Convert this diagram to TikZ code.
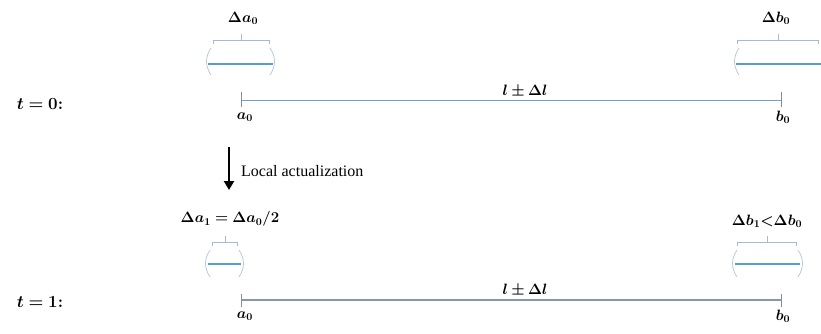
\RequirePackage{fix-cm}
\documentclass[tikz,border=0pt]{standalone}
\usepackage{amsmath}
\usepackage{bm}
\usepackage{fontspec}
\newfontfamily\timesfont{Liberation Serif}
\usetikzlibrary{arrows.meta}
\definecolor{segblue}{HTML}{5B9BD5}
\definecolor{bracecol}{HTML}{A7BAD3}
\definecolor{parcol}{HTML}{B9CADD}
\definecolor{mainthin}{HTML}{7A9CC8}
\definecolor{mainthick}{HTML}{8497B0}
\definecolor{tickcol}{HTML}{8C8C8C}
\tikzset{
  lbl/.style={inner sep=0pt, font=\fontsize{15}{17}\selectfont},
  tlbl/.style={inner sep=0pt, font=\fontsize{17}{20}\selectfont},
  seg/.style={segblue, line width=2pt},
  bracel/.style={bracecol, line width=0.8pt},
  parl/.style={parcol, line width=0.8pt},
  thinmain/.style={mainthin, line width=1pt},
  thickmain/.style={mainthick, line width=2.4pt},
  endtick/.style={tickcol, line width=0.8pt},
}
\begin{document}
\begin{tikzpicture}[x=1pt,y=-1pt]
\useasboundingbox (0,0) rectangle (821,333);
% ---------- t = 0 ----------
\node[tlbl] (t0) at (40,104) {$\bm{t=0}$\textbf{:}};
\coordinate (a0) at (241,100);
\coordinate (b0) at (781,100);
\draw[thinmain] (a0) -- (b0);
\draw[endtick] ([yshift=-7pt]a0) -- ([yshift=8pt]a0);
\draw[endtick] ([yshift=-7pt]b0) -- ([yshift=8pt]b0);
\node[lbl] (la0) at (245,117) {$\bm{a_0}$};
\node[lbl] (lb0) at (783,117) {$\bm{b_0}$};
\node[lbl] (len0) at (525,91) {$\bm{l\pm\Delta l}$};
% left uncertainty a0
\node[lbl] (da0) at (243,18) {$\bm{\Delta a_0}$};
\draw[bracel] (213,44) -- (213,40) -- (269,40) -- (269,44);
\draw[bracel] (241,40) -- (241,34);
\draw[parl] (211,48) .. controls (205,57) and (205,66) .. (211,75);
\draw[parl] (270,48) .. controls (276,57) and (276,66) .. (270,75);
\draw[seg] (208,64) -- (273,64);
% right uncertainty b0
\node[lbl] (db0) at (776,18) {$\bm{\Delta b_0}$};
\draw[bracel] (737,44) -- (737,40) -- (818,40) -- (818,44);
\draw[bracel] (778,40) -- (778,34);
\draw[parl] (739,48) .. controls (733,57) and (733,66) .. (739,75);
\draw[seg] (736,64) -- (821,64);
% ---------- arrow ----------
\coordinate (arrS) at (229,147);
\coordinate (arrE) at (229,190);
\draw[line width=2.6pt, -{Triangle[width=10pt,length=9pt]}] (arrS) -- (arrE);
\node[anchor=west, inner sep=0pt, font=\timesfont\fontsize{16}{18}\selectfont] (la) at (241,171) {Local actualization};
% ---------- t = 1 ----------
\node[tlbl] (t1) at (40,302) {$\bm{t=1}$\textbf{:}};
\coordinate (a1) at (241,300);
\coordinate (b1) at (781,300);
\draw[thickmain] (a1) -- (b1);
\draw[endtick] ([yshift=-7pt]a1) -- ([yshift=6pt]a1);
\draw[endtick] ([yshift=-7pt]b1) -- ([yshift=6pt]b1);
\node[lbl] (la1) at (245,316) {$\bm{a_0}$};
\node[lbl] (lb1) at (783,316) {$\bm{b_0}$};
\node[lbl] (len1) at (525,290) {$\bm{l\pm\Delta l}$};
% left uncertainty a1
\node[lbl] (da1) at (230,219) {$\bm{\Delta a_1=\Delta a_0/2}$};
\draw[bracel] (212,246) -- (212,242) -- (237,242) -- (237,246);
\draw[bracel] (225,242) -- (225,236);
\draw[parl] (210,250) .. controls (204,259) and (204,268) .. (210,277);
\draw[parl] (239,250) .. controls (245,259) and (245,268) .. (239,277);
\draw[seg] (208,264) -- (241,264);
% right uncertainty b1
\node[lbl] (db1) at (767,221) {$\bm{\Delta b_1{<}\Delta b_0}$};
\draw[bracel] (737,246) -- (737,242) -- (796,242) -- (796,246);
\draw[bracel] (767,242) -- (767,236);
\draw[parl] (737,250) .. controls (731,259) and (731,268) .. (737,277);
\draw[parl] (798,250) .. controls (804,259) and (804,268) .. (798,277);
\draw[seg] (735,264) -- (800,264);
\end{tikzpicture}
\end{document}
